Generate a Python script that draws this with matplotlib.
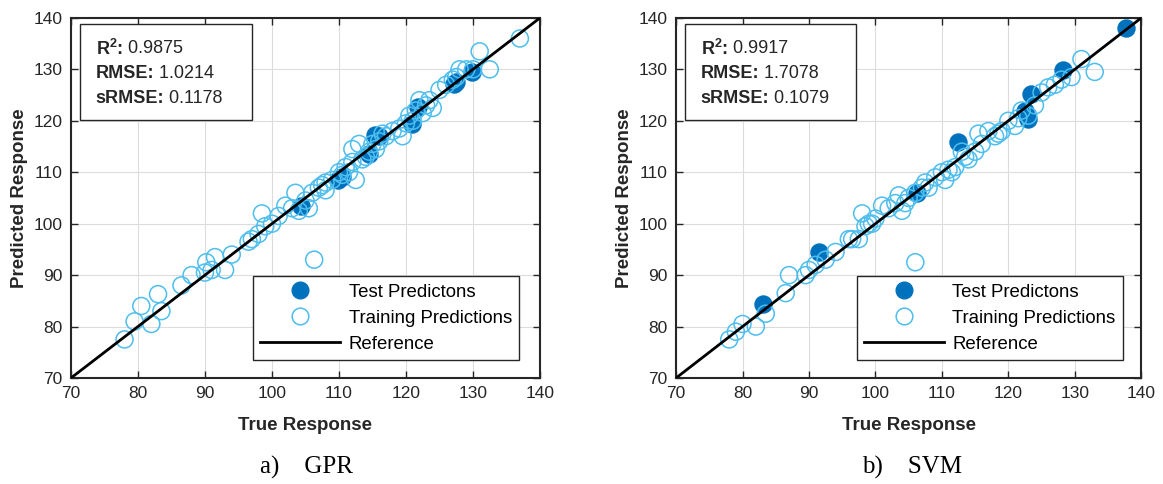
import numpy as np
import matplotlib
matplotlib.use("Agg")
import matplotlib.pyplot as plt
from matplotlib.lines import Line2D
from matplotlib.patches import Rectangle

# ---- data ----
gpr_train_true = [78, 79.5, 80.5, 82, 83, 83.5, 86.5, 88, 90, 90.2, 91, 91.5, 93, 94,
                  96.5, 97, 98, 98.5, 99, 100, 101, 102, 103, 103.5, 104, 105, 105.5,
                  106, 106.3, 107, 107.5, 108, 108, 109, 110, 110.5, 111, 111.5, 112,
                  112.5, 112, 113, 113.5, 114, 114.5, 115, 115.5, 116, 116.5, 117, 118,
                  119, 119.5, 120, 120.5, 121, 121.5, 122, 122.5, 123, 123.5, 124, 125,
                  126, 127, 127.5, 128, 129, 130, 131, 132.5, 137]
gpr_train_pred = [77.5, 81, 84, 80.5, 86.3, 83, 88, 90, 90.5, 92.5, 91, 93.5, 91, 94,
                  96.5, 97, 98, 102, 99.5, 100, 101.5, 103.5, 103, 106, 102.5, 104.5, 103,
                  106, 93, 107, 107.5, 106.5, 108, 108.5, 110, 109.5, 111, 110, 114.5,
                  108.5, 112, 115.5, 112.5, 113, 114, 115.5, 114.5, 116, 117.5, 117, 118,
                  118.5, 117, 119.5, 121, 120, 122, 124, 121.5, 123, 124, 122.5, 126,
                  127, 128, 128.5, 130, 130, 130, 133.5, 130, 136]
gpr_test_true = [104.4, 109.9, 110.5, 114.5, 115.4, 116, 120.9, 121.8, 127.1, 127.5, 129.8]
gpr_test_pred = [103.5, 108.4, 109, 113.5, 117.2, 117, 119.4, 122.7, 127.2, 127.5, 129.5]

svm_train_true = [78, 79, 80, 82, 83.5, 86.5, 87, 89.5, 90, 91, 92.5, 94, 96, 96.5,
                  97.5, 98, 98.5, 99, 99.5, 100, 101, 102, 103, 103.5, 104, 104.5, 105,
                  106, 106, 107, 107.5, 108, 109, 110, 110.5, 111, 111.5, 112, 113,
                  113.5, 114, 115, 115.5, 116, 117, 118, 118.5, 119, 120, 121, 121.5,
                  122, 123, 124, 125, 126, 127, 128, 129.5, 131, 133]
svm_train_pred = [77.5, 79, 80.5, 80, 82.5, 86.5, 90, 90, 91, 92, 93, 94.5, 97, 97,
                  97, 102, 99.5, 100, 100, 101, 103.5, 103, 104, 105.5, 102.5, 104, 105,
                  92.5, 106, 107, 108, 107, 109, 110, 108.5, 110.5, 110, 111, 114,
                  113, 112.5, 114, 117.5, 115.5, 118, 117, 117.5, 118, 120, 119, 120.5,
                  122, 121, 123, 125.5, 126.5, 127, 128, 128.5, 132, 129.5]
svm_test_true = [83.1, 91.5, 106.2, 112.4, 122.5, 122.9, 123.4, 128.3, 137.7]
svm_test_pred = [84.3, 94.4, 105.9, 115.9, 122, 120.4, 125.2, 129.8, 138.0]

captions = ["a)    GPR", "b)    SVM"]
stat_names = [r"$\mathbf{R^{2}}$:", "RMSE:", "sRMSE:"]
stats = [("0.9875", "1.0214", "0.1178"), ("0.9917", "1.7078", "0.1079")]
ticks = [70, 80, 90, 100, 110, 120, 130, 140]
legend_labels = ['Test Predictons', 'Training Predictions', 'Reference']

plt.rcParams['font.family'] = ['Liberation Sans', 'DejaVu Sans']
plt.rcParams['mathtext.fontset'] = 'custom'
plt.rcParams['mathtext.rm'] = 'Liberation Sans'
plt.rcParams['mathtext.bf'] = 'Liberation Sans:bold'

fig = plt.figure(figsize=(11.63, 4.84), dpi=100)
axes = [fig.add_axes([0.061, 0.219, 0.4033, 0.744]),
        fig.add_axes([0.5813, 0.219, 0.4, 0.744])]

data = [(gpr_train_true, gpr_train_pred, gpr_test_true, gpr_test_pred),
        (svm_train_true, svm_train_pred, svm_test_true, svm_test_pred)]
caption_x = [307 / 1163, 912 / 1163]

for k, ax in enumerate(axes):
    tr_x, tr_y, te_x, te_y = data[k]
    ax.scatter(te_x, te_y, s=150, color='#0072BD', zorder=3)
    ax.scatter(tr_x, tr_y, s=150, facecolors='none', edgecolors='#4DBEEE',
               linewidths=1.1, zorder=4)
    ax.plot([70, 140], [70, 140], color='black', lw=2, zorder=5)
    ax.set_xlim(70, 140)
    ax.set_ylim(70, 140)
    ax.set_xticks(ticks)
    ax.set_yticks(ticks)
    ax.grid(True, color='#dcdcdc', lw=0.8)
    ax.set_axisbelow(True)
    ax.tick_params(direction='in', top=True, right=True, length=5, width=1,
                   labelsize=12.5, colors='#262626', pad=6)
    for sp in ax.spines.values():
        sp.set_linewidth(1.5)
        sp.set_color('#262626')
    ax.set_xlabel('True Response', fontsize=13.5, fontweight='bold', labelpad=11, color='#262626')
    ax.set_ylabel('Predicted Response', fontsize=13.5, fontweight='bold', labelpad=4, color='#262626')

    # stats box
    ax.add_patch(Rectangle((0.019, 0.717), 0.367, 0.266, transform=ax.transAxes,
                           facecolor='white', edgecolor='#262626', lw=1, zorder=6))
    for j in range(3):
        lab = ax.text(0.053, 0.915 - j * 0.07, stat_names[j], transform=ax.transAxes,
                      fontsize=13, fontweight='bold', va='center', zorder=7, color='#262626')
        ax.annotate(" " + stats[k][j], xy=(1, 0.5), xycoords=lab, va='center',
                    fontsize=13, zorder=7, color='#262626')

    handles = [Line2D([], [], ls='none', marker='o', ms=12, color='#0072BD'),
               Line2D([], [], ls='none', marker='o', ms=12, mfc='none', mec='#4DBEEE', mew=1.1),
               Line2D([], [], color='black', lw=2)]
    leg = ax.legend(handles, legend_labels,
                    loc='lower left', bbox_to_anchor=(0.388, 0.05), borderaxespad=0,
                    handlelength=4.3, handletextpad=0.45, borderpad=0.4, labelspacing=0.48,
                    fancybox=False, framealpha=1, edgecolor='#262626',
                    prop={'size': 13.4})
    leg.get_frame().set_linewidth(1)
    leg.set_zorder(8)

    fig.text(caption_x[k], 1 - 467 / 484, captions[k],
             ha='center', va='center', fontsize=18, family='Liberation Serif')

fig.savefig('out.png', dpi=100)
